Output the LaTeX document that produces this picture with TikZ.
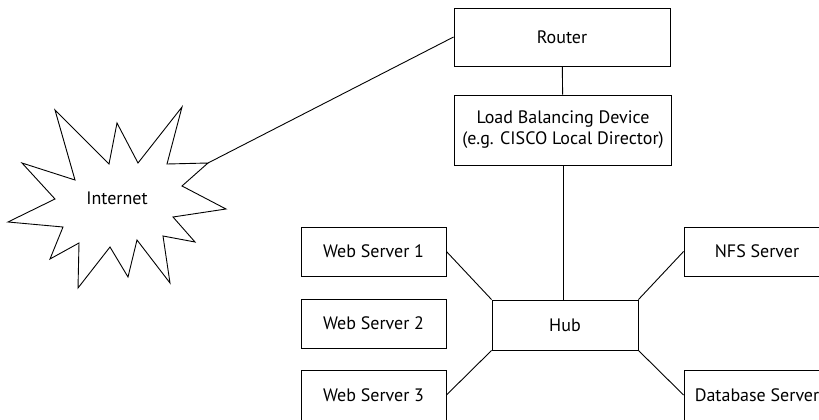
\documentclass[tikz,border=0pt]{standalone}
\usepackage{fontspec}
\setmainfont{PT Sans}
\usetikzlibrary{positioning}

\begin{document}
\begin{tikzpicture}[x=1pt, y=-1pt, line width=0.9pt, color=black,
      every node/.append style={font=\fontsize{18}{21}\selectfont}]
    \tikzstyle{box} = [draw, rectangle, inner sep=0pt, align=center]
    \useasboundingbox (0,0) rectangle (819,420);
    % top of the network
    \node (router) [box, minimum width=216pt, minimum height=58pt] at (562,37) {Router};
    \node (balancer) [box, minimum width=217pt, minimum height=70pt] at (563,130)
      {Load Balancing Device\\(e.g. CISCO Local Director)};
    \node (hub) [box, minimum width=146pt, minimum height=50pt] at (565,325) {Hub};
    % servers
    \node (web1) [box, minimum width=145pt, minimum height=49pt] at (373.5,251.5) {Web Server 1};
    \node (web2) [box, minimum width=145pt, minimum height=49pt] at (373.5,323.5) {Web Server 2};
    \node (web3) [box, minimum width=145pt, minimum height=50pt] at (373.5,395) {Web Server 3};
    \node (nfs) [box, minimum width=146pt, minimum height=49pt] at (757,251.5) {NFS Server};
    \node (db) [box, minimum width=146pt, minimum height=50pt] at (757,395) {Database Server};
    % the internet cloud
    \draw (55,110) -- (75,180) -- (22,163) -- (55,199) -- (8,222) -- (63,227)
      -- (50,259) -- (79,243) -- (78,288) -- (110,247) -- (128,277) -- (137,240)
      -- (170,283) -- (163,236) -- (195,242) -- (173,217) -- (226,209) -- (182,186)
      -- (208,163) coordinate (tip) -- (167,164) -- (182,107) -- (138,163)
      -- (117,123) -- (109,164) -- cycle;
    \node (internet) at (117,198) {Internet};
    % connections
    \draw (tip) -- (router.west);
    \draw (router) -- (balancer);
    \draw (balancer.south) -- (balancer.south |- hub.north);
    \draw (web1.east) -- (hub.north west);
    \draw (web3.east) -- (hub.south west);
    \draw (nfs.west) -- (hub.north east);
    \draw (db.west) -- (hub.south east);
\end{tikzpicture}
\end{document}
